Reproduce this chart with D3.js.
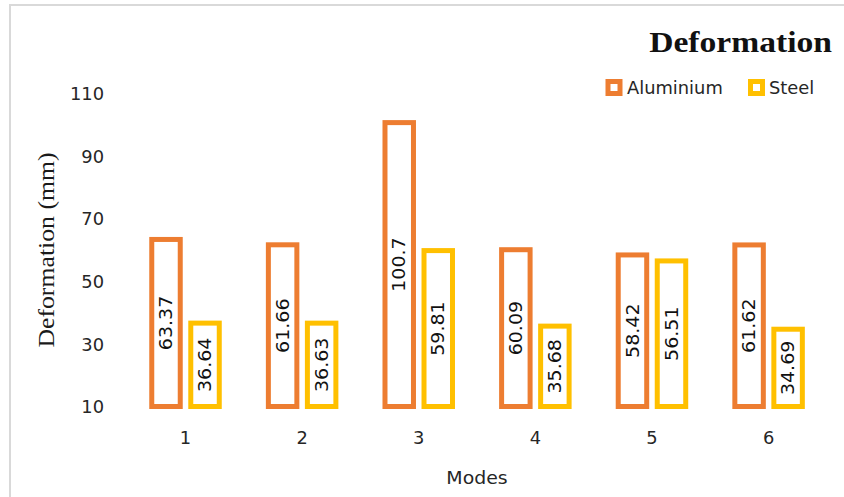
<!DOCTYPE html>
<html>
<head>
<meta charset="utf-8">
<script src="https://cdn.jsdelivr.net/npm/d3@7"></script>
<style>
  html, body { margin: 0; padding: 0; background: #fff; }
  svg { display: block; }
</style>
</head>
<body>
<svg id="chart" width="844" height="497"></svg>
<script>
// Deformation per vibration mode for two materials
const modes = ["1", "2", "3", "4", "5", "6"];
const seriesNames = ["Aluminium", "Steel"];
const aluminium = [63.37, 61.66, 100.7, 60.09, 58.42, 61.62];
const steel = [36.64, 36.63, 59.81, 35.68, 56.51, 34.69];
const yTicks = [10, 30, 50, 70, 90, 110];
const colors = { Aluminium: "#ED7D31", Steel: "#FFC000" };

const values = { Aluminium: aluminium, Steel: steel };
const rows = modes.map((m, i) => ({
  mode: m,
  bars: seriesNames.map(s => ({ series: s, value: values[s][i] }))
}));

const svg = d3.select("#chart");
const SX = 1.12; // horizontal widening of glyphs
const sans = "'DejaVu Sans', sans-serif";
const serif = "'Liberation Serif', 'Times New Roman', serif";

// outer frame
svg.append("rect")
  .attr("x", 10).attr("y", 5)
  .attr("width", 900).attr("height", 600)
  .attr("fill", "none")
  .attr("stroke", "#d9d9d9")
  .attr("stroke-width", 2);

const y = d3.scaleLinear().domain([10, 110]).range([406.5, 93.5]);
const x0 = d3.scaleBand().domain(modes).range([127.2, 826.9]).padding(0);
const groupW = 67.5;
const x1 = d3.scaleBand().domain(seriesNames)
  .range([x0.bandwidth() / 2 - groupW / 2, x0.bandwidth() / 2 + groupW / 2])
  .paddingInner(0.27);

// y axis: labels only
const yAxis = d3.axisLeft(y).tickValues(yTicks).tickSize(0).tickPadding(0);
const gy = svg.append("g").attr("transform", "translate(104,0)").call(yAxis);
gy.select(".domain").remove();
gy.selectAll("text")
  .attr("x", 0).attr("dy", "0.36em")
  .attr("transform", "scale(1.05,1)")
  .style("font-family", sans).style("font-size", "17px").attr("fill", "#262626");

// x axis: labels only
const xAxis = d3.axisBottom(x0).tickSize(0).tickPadding(0);
const gx = svg.append("g").attr("transform", "translate(0,438)").call(xAxis);
gx.select(".domain").remove();
gx.selectAll("text")
  .attr("y", 0).attr("dy", "0.36em")
  .attr("transform", "scale(1.05,1)")
  .style("font-family", sans).style("font-size", "17px").attr("fill", "#262626");

// bars
const groups = svg.append("g").selectAll("g.mode")
  .data(rows).join("g")
  .attr("class", "mode")
  .attr("transform", d => `translate(${x0(d.mode)},0)`);

groups.selectAll("rect")
  .data(d => d.bars).join("rect")
  .attr("x", d => x1(d.series))
  .attr("y", d => y(d.value))
  .attr("width", x1.bandwidth())
  .attr("height", d => y(10) - y(d.value))
  .attr("fill", "#fff")
  .attr("stroke", d => colors[d.series])
  .attr("stroke-width", 5);

// value labels inside the bars
groups.selectAll("text.val")
  .data(d => d.bars).join("text")
  .attr("class", "val")
  .attr("text-anchor", "middle")
  .attr("dy", "0.36em")
  .attr("transform", d => {
    const cx = x1(d.series) + x1.bandwidth() / 2;
    const cy = (y(d.value) + y(10)) / 2;
    return `translate(${cx},${cy}) rotate(-90) scale(${SX},1)`;
  })
  .style("font-family", sans).style("font-size", "17px")
  .attr("fill", "#111")
  .text(d => d.value);

// axis titles
svg.append("text")
  .attr("text-anchor", "middle")
  .attr("transform", "translate(477,484) scale(1.05,1)")
  .style("font-family", sans).style("font-size", "18px")
  .attr("fill", "#262626")
  .text("Modes");

svg.append("text")
  .attr("text-anchor", "middle")
  .attr("dy", "0.32em")
  .attr("transform", `translate(47,250) rotate(-90) scale(${SX},1)`)
  .style("font-family", serif).style("font-size", "23px")
  .attr("fill", "#1a1a1a")
  .text("Deformation (mm)");

// chart title
svg.append("text")
  .attr("text-anchor", "end")
  .attr("transform", `translate(832,52) scale(${SX},1)`)
  .style("font-family", serif).style("font-size", "30px")
  .style("font-weight", "bold")
  .attr("fill", "#111")
  .text("Deformation");

// legend
const legendItems = [
  { name: "Aluminium", sx: 614, tx: 627 },
  { name: "Steel", sx: 756.5, tx: 769 }
];
const lg = svg.append("g").selectAll("g").data(legendItems).join("g");
lg.append("rect")
  .attr("x", d => d.sx - 6).attr("y", 81.5)
  .attr("width", 12).attr("height", 12)
  .attr("fill", "#fff")
  .attr("stroke", d => colors[d.name])
  .attr("stroke-width", 5);
lg.append("text")
  .attr("dy", "0.36em")
  .attr("transform", d => `translate(${d.tx},87.5) scale(1.05,1)`)
  .style("font-family", sans).style("font-size", "17px")
  .attr("fill", "#262626")
  .text(d => d.name);
</script>
</body>
</html>
